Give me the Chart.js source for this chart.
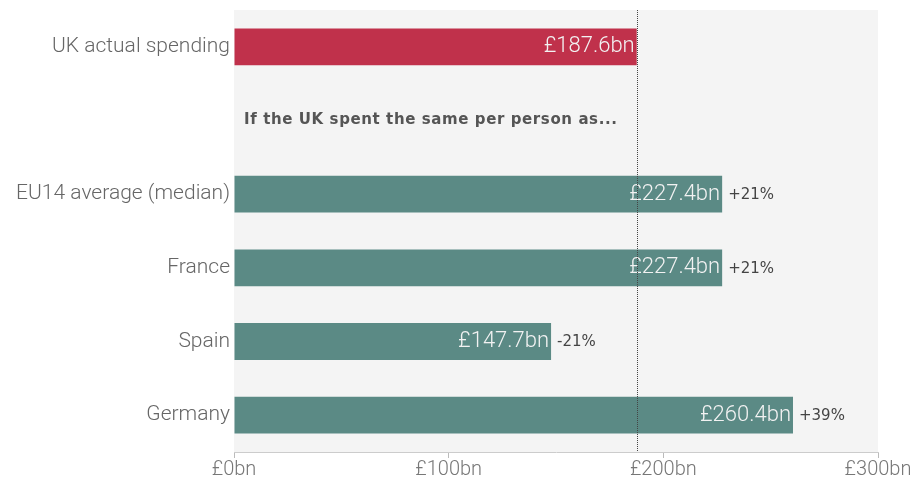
<!DOCTYPE html>
<html>
<head>
<meta charset="utf-8">
<script src="https://cdn.jsdelivr.net/npm/chart.js@4"></script>
<style>
  html, body { margin: 0; padding: 0; background: #fff; }
  #wrap { width: 914px; height: 485px; }
</style>
</head>
<body>
<div id="wrap"><canvas id="grafico" width="914" height="485"></canvas></div>
<script>
// categorias e valores (em £bn)
const categorias = ['UK actual spending', '', 'EU14 average (median)', 'France', 'Spain', 'Germany'];
const valores = [187.6, null, 227.4, 227.4, 147.7, 260.4];
const variacao = ['', '', '+21%', '+21%', '-21%', '+39%'];
const cores = ['#c0314b', '#5b8a85', '#5b8a85', '#5b8a85', '#5b8a85', '#5b8a85'];
const ticksX = [0, 100, 200, 300];
const gastoUK = 187.6;
const subtitulo = 'If the UK spent the same per person as...';

const extras = {
    id: 'extras',
    beforeDatasetsDraw(chart) {
        const { ctx, chartArea: a } = chart;
        ctx.save();
        ctx.fillStyle = '#f4f4f4';
        ctx.fillRect(a.left, a.top, a.right - a.left, a.bottom - a.top);
        ctx.restore();
    },
    afterDatasetsDraw(chart) {
        const { ctx, chartArea: a, scales } = chart;
        const meta = chart.getDatasetMeta(0);
        ctx.save();
        // rótulos de valor
        meta.data.forEach((bar, i) => {
            if (valores[i] == null) return;
            ctx.font = '300 22px Roboto';
            ctx.fillStyle = '#f2f2f2';
            ctx.textAlign = 'right';
            ctx.textBaseline = 'middle';
            ctx.fillText('£' + valores[i].toFixed(1) + 'bn', bar.x - 2, bar.y);
            if (variacao[i]) {
                ctx.font = '15px "DejaVu Sans"';
                ctx.fillStyle = '#444';
                ctx.textAlign = 'left';
                ctx.fillText(variacao[i], bar.x + 6, bar.y + 1);
            }
        });
        // texto do meio
        const yMeio = scales.y.getPixelForValue(1);
        ctx.font = 'bold 15px "DejaVu Sans"';
        ctx.letterSpacing = '0.6px';
        ctx.fillStyle = '#555';
        ctx.textAlign = 'left';
        ctx.textBaseline = 'middle';
        ctx.fillText(subtitulo, a.left + 10, yMeio);
        ctx.letterSpacing = '0px';
        // linha pontilhada
        const xUK = Math.round(scales.x.getPixelForValue(gastoUK)) + 0.5;
        ctx.strokeStyle = '#444';
        ctx.lineWidth = 1;
        ctx.setLineDash([1, 1]);
        ctx.beginPath();
        ctx.moveTo(xUK, a.top);
        ctx.lineTo(xUK, a.bottom);
        ctx.stroke();
        ctx.restore();
    }
};

const ctx = document.getElementById('grafico').getContext('2d');
const grafico = new Chart(ctx, {
    type: 'bar',
    data: {
        labels: categorias,
        datasets: [{
            data: valores,
            backgroundColor: cores,
            barPercentage: 0.5,
            categoryPercentage: 1
        }]
    },
    options: {
        indexAxis: 'y',
        responsive: false,
        animation: false,
        layout: { padding: { left: 0, right: 36, top: 10, bottom: 0 } },
        plugins: {
            legend: { display: false },
            tooltip: { enabled: false }
        },
        scales: {
            x: {
                min: 0,
                max: 300,
                afterBuildTicks(scale) {
                    scale.ticks = ticksX.map(v => ({ value: v }));
                },
                afterFit(scale) {
                    scale.height = 33;
                    scale.paddingLeft = 0;
                    scale.paddingRight = 0;
                },
                grid: {
                    drawOnChartArea: false,
                    drawTicks: true,
                    tickLength: 6,
                    color: '#bbb'
                },
                border: { color: '#ccc' },
                ticks: {
                    padding: 0,
                    color: '#777',
                    font: { family: 'Roboto', weight: '300', size: 20 },
                    callback: v => '£' + v + 'bn'
                }
            },
            y: {
                afterFit(scale) {
                    scale.width = 234;
                    scale.paddingTop = 0;
                    scale.paddingBottom = 0;
                },
                grid: { display: false, drawTicks: false },
                border: { display: false },
                ticks: {
                    padding: 4,
                    color: '#666',
                    font: { family: 'Roboto', weight: '300', size: 21 }
                }
            }
        }
    },
    plugins: [extras]
});
</script>
</body>
</html>
